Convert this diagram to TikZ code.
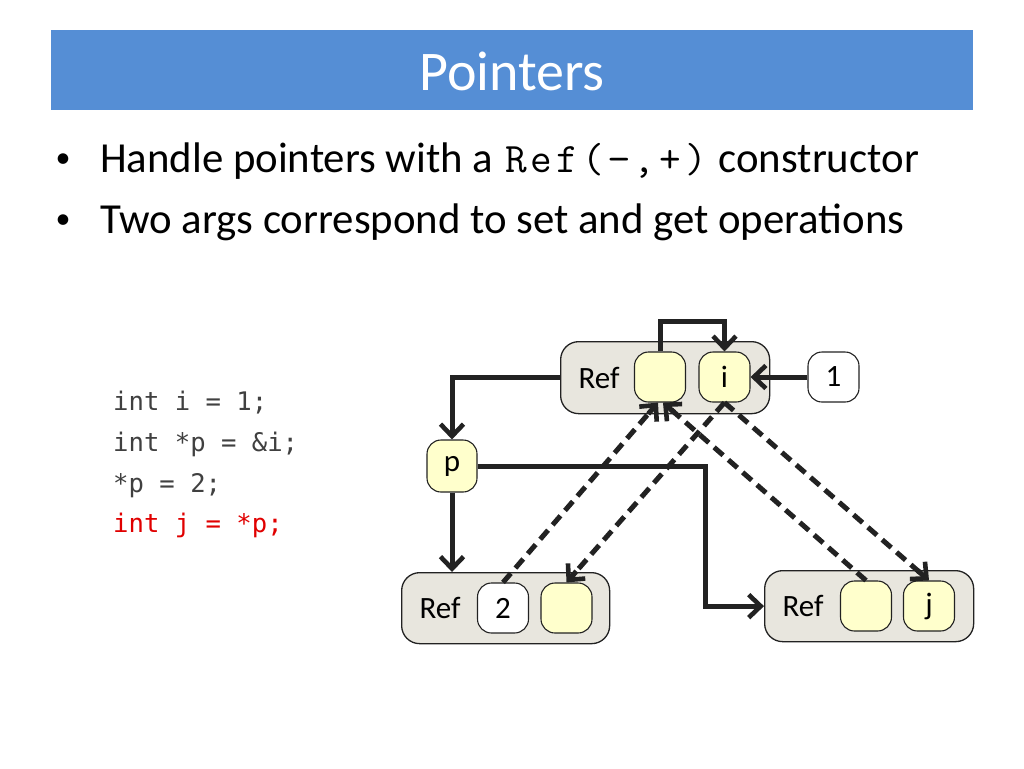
\documentclass[tikz,border=0pt]{standalone}
\usepackage{fontspec}
\setmainfont{Carlito}
\newfontfamily\codefont{DejaVu Sans Mono}
\usetikzlibrary{arrows.meta,positioning,calc}
\definecolor{titleblue}{HTML}{558ED5}
\definecolor{refgray}{HTML}{E8E6DE}
\definecolor{cellyellow}{HTML}{FFFFCC}
\definecolor{ink}{HTML}{222222}
\definecolor{codegray}{HTML}{404040}
\definecolor{codered}{HTML}{E00000}
\newcommand\cch[1]{\makebox[25.75pt]{#1}}
\tikzset{
  refbox/.style={draw=ink, line width=1.3pt, fill=refgray, rounded corners=18pt, inner sep=0pt},
  cellbox/.style={draw=ink, line width=1.1pt, fill=cellyellow, rounded corners=14pt, minimum width=51pt, minimum height=50pt, inner sep=0pt, font=\fontsize{31}{36}\selectfont},
  valbox/.style={cellbox, fill=white},
  reflabel/.style={inner sep=0pt, font=\fontsize{31}{36}\selectfont},
  link/.style={draw=ink, line width=5pt, -{Straight Barb[length=12pt,width=23pt,line width=4.6pt]}},
  dline/.style={draw=ink, line width=5pt, dash pattern=on 12pt off 7pt},
  bullet/.style={anchor=base west, inner sep=0pt, font=\fontsize{42.8}{50}\selectfont},
  bdot/.style={anchor=base, inner sep=0pt, font=\fontsize{30}{36}\selectfont},
  code/.style={anchor=base west, inner sep=0pt, text=codegray, font=\codefont\fontsize{25.6}{30}\selectfont},
}
\begin{document}
\begin{tikzpicture}[x=1pt,y=-1pt]
\path[use as bounding box] (0,0) rectangle (1024,768);
% title
\node[fill=titleblue, minimum width=922pt, minimum height=80pt, inner sep=0pt, anchor=north west] (title) at (51,30) {};
\node[text=white, anchor=base, inner sep=0pt, font=\fontsize{56}{64}\selectfont] (ttext) at (512,90) {Pointers};
% bullets
\node[bdot] (d1) at (63,167) {•};
\node[bullet] (b1) at (100,172) {Handle pointers with a {\ttfamily\fontsize{42}{50}\selectfont\cch{R}\cch{e}\cch{f}\cch{(}\cch{−}\cch{,}\cch{+}\cch{)}} constructor};
\node[bdot] (d2) at (63,228) {•};
\node[bullet] (b2) at (100,233) {Two args correspond to set and get operations};
% code
\node[code] (c1) at (113,410) {int i = 1;};
\node[code] (c2) at (113,451) {int *p = \&i;};
\node[code] (c3) at (113,492) {*p = 2;};
\node[code, text=codered] (c4) at (113,532) {int j = *p;};
% top Ref
\node[refbox, minimum width=209pt, minimum height=72pt, anchor=north west] (rtop) at (560,341) {};
\node[reflabel] (rtopl) at (599,378) {Ref};
\node[cellbox] (ta) at (660,377) {};
\node[cellbox] (tb) at (724.5,377) {i};
\node[valbox] (one) at (833.5,377) {1};
% p
\node[cellbox, minimum width=50pt, minimum height=52pt] (p) at (452,466) {p};
% bottom left Ref
\node[refbox, minimum width=208pt, minimum height=71pt, anchor=north west] (rbl) at (401,572) {};
\node[reflabel] (rbll) at (440,608) {Ref};
\node[valbox] (two) at (503,608) {2};
\node[cellbox] (bla) at (566.5,608) {};
% bottom right Ref
\node[refbox, minimum width=209pt, minimum height=71pt, anchor=north west] (rbr) at (764,570) {};
\node[reflabel] (rbrl) at (803,606) {Ref};
\node[cellbox] (bra) at (866,606) {};
\node[cellbox] (brj) at (929,606) {j};
% solid links
\draw[link] (one.west) -- (tb.east);
\draw[link] (ta.north) -- ++(0,-30) -| (tb.north);
\draw[link] (rtop.west) -| (p.north);
\draw[link] (p.south) -- (p.south |- rbl.north);
\draw[link] (p.east) -| (705,0 |- rbr.west) -- (rbr.west);
% dashed links
\coordinate (ta1) at ([xshift=-2pt]ta.south);
\coordinate (ta2) at ([xshift=3pt]ta.south);
\draw[dline] (two.north) -- ($(ta1)!8pt!(two.north)$);
\draw[link] ($(ta1)!15pt!(two.north)$) -- (ta1);
\draw[dline] (tb.south) -- ($(bla.north)!8pt!(tb.south)$);
\draw[link] ($(bla.north)!15pt!(tb.south)$) -- (bla.north);
\draw[dline] (bra.north) -- ($(ta2)!8pt!(bra.north)$);
\draw[link] ($(ta2)!15pt!(bra.north)$) -- (ta2);
\draw[dline] (tb.south) -- ($(brj.north)!8pt!(tb.south)$);
\draw[link] ($(brj.north)!15pt!(tb.south)$) -- (brj.north);
\end{tikzpicture}
\end{document}
